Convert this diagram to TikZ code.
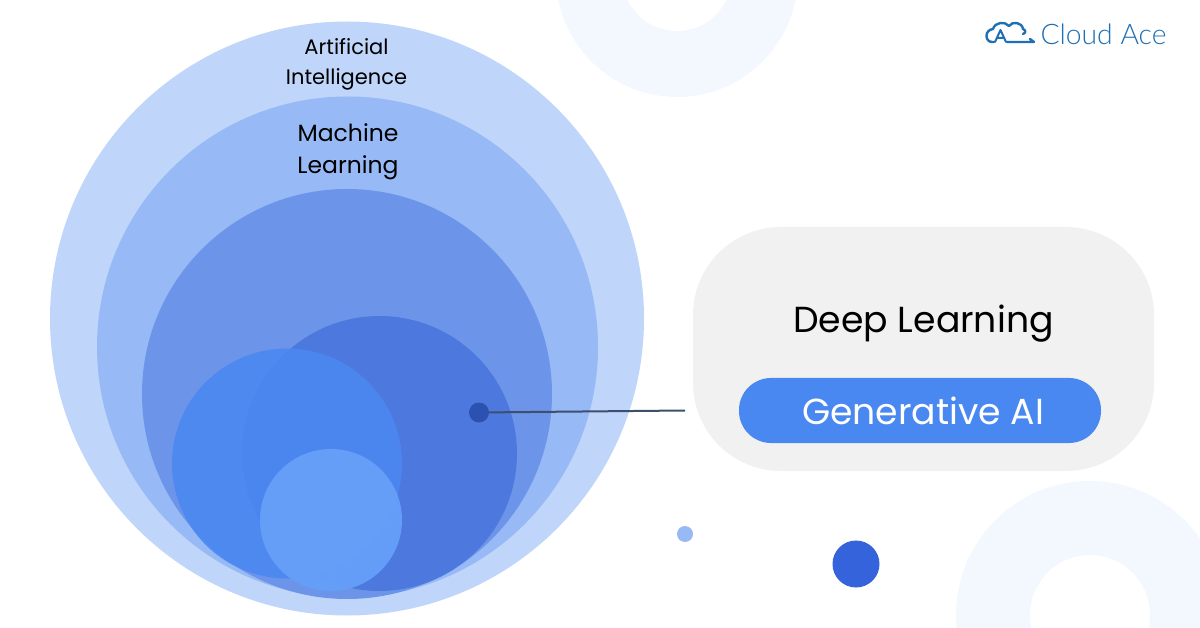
\documentclass[tikz,border=0pt]{standalone}
\usepackage{fontspec}
\setmainfont{Poppins}
\newfontfamily\logofont{Lato Light}
\definecolor{aiblue}{HTML}{C0D5FA}
\definecolor{mlblue}{HTML}{97B9F5}
\definecolor{thirdblue}{HTML}{6C95EA}
\definecolor{deepblue}{HTML}{4D79DF}
\definecolor{genblue}{HTML}{4A88F1}
\definecolor{lightblue}{HTML}{659FF8}
\definecolor{dotblue}{HTML}{2B51B1}
\definecolor{bigdot}{HTML}{3563DB}
\definecolor{paleblue}{HTML}{F3F8FE}
\definecolor{panelgray}{HTML}{F1F1F1}
\definecolor{wireblue}{HTML}{3C506E}
\definecolor{logoblue}{HTML}{1F6FB4}
\tikzset{
	disc/.style={circle, inner sep=0pt, minimum size=#1},
	caption/.style={align=center, text=black, inner sep=0pt},
	logoline/.style={logoblue, line width=2.4pt, line cap=round, line join=round}
}
\begin{document}
\begin{tikzpicture}[x=1pt, y=-1pt]
	\path[use as bounding box] (0,0) rectangle (1200,628);
	\clip (0,0) rectangle (1200,628);
	% background rings
	\fill[paleblue, even odd rule] (677,-24) circle (121) (677,-24) circle (55);
	\fill[paleblue, even odd rule] (1090,615) circle (134) (1090,615) circle (60);
	% nested circles
	\node (ai) [disc=594pt, fill=aiblue] at (347,318.5) {};
	\node (ml) [disc=501pt, fill=mlblue] at (347.5,347) {};
	\node (third) [disc=410pt, fill=thirdblue] at (347,394) {};
	\node (deep) [disc=275pt, fill=deepblue] at (379.5,453.5) {};
	\node (gen) [disc=230pt, fill=genblue, fill opacity=.88] at (287,463.5) {};
	\node (small) [disc=142pt, fill=lightblue, fill opacity=.97] at (331,520) {};
	\node (aitext) [caption, font=\fontsize{21}{30}\selectfont] at (346.5,64.5) {Artificial\\Intelligence};
	\node (mltext) [caption, font=\fontsize{23.5}{32}\selectfont] at (348,152) {Machine\\Learning};
	% panel on the right
	\node (panel) [fill=panelgray, rounded corners=88pt, inner sep=0pt, minimum width=461pt, minimum height=244pt] at (923.5,349) {};
	\node (deeptext) [caption, font=\fontsize{36.2}{40}\selectfont] at (923.5,324) {Deep Learning};
	\node (pill) [fill=genblue, rounded corners=32pt, inner sep=0pt, minimum width=362pt, minimum height=65pt] at (920,410.5) {};
	\node (gentext) [caption, text=white, font=\fontsize{36.2}{40}\selectfont] at (923,411) {Generative AI};
	% dots and the wire
	\node (wiredot) [disc=20pt, fill=dotblue] at (479,412.5) {};
	\coordinate (wireend) at (685,410.5);
	\draw[wireblue, line width=2pt] (wiredot) -- (wireend);
	\node (dotone) [disc=16pt, fill=mlblue] at (685,534) {};
	\node (dottwo) [disc=47pt, fill=bigdot] at (856,564) {};
	% logo
	\draw[logoline] (1007,42) -- (1034,42) -- (1030,39) (994,42) -- (992,42)
		.. controls (985,42) and (984,30) .. (993,29)
		.. controls (995,22) and (1005,21) .. (1009,26)
		.. controls (1012,21) and (1022,22) .. (1023,29)
		.. controls (1026,30) and (1026,33) .. (1023,34);
	\draw[logoline, line width=2pt] (995,42) -- (1000.5,30) -- (1006,42) (997,38) -- (1004,38);
	\node (logotext) [inner sep=0pt, text=logoblue, font=\logofont\fontsize{28.3}{30}\selectfont] at (1103.5,34.5) {Cloud Ace};
\end{tikzpicture}
\end{document}
